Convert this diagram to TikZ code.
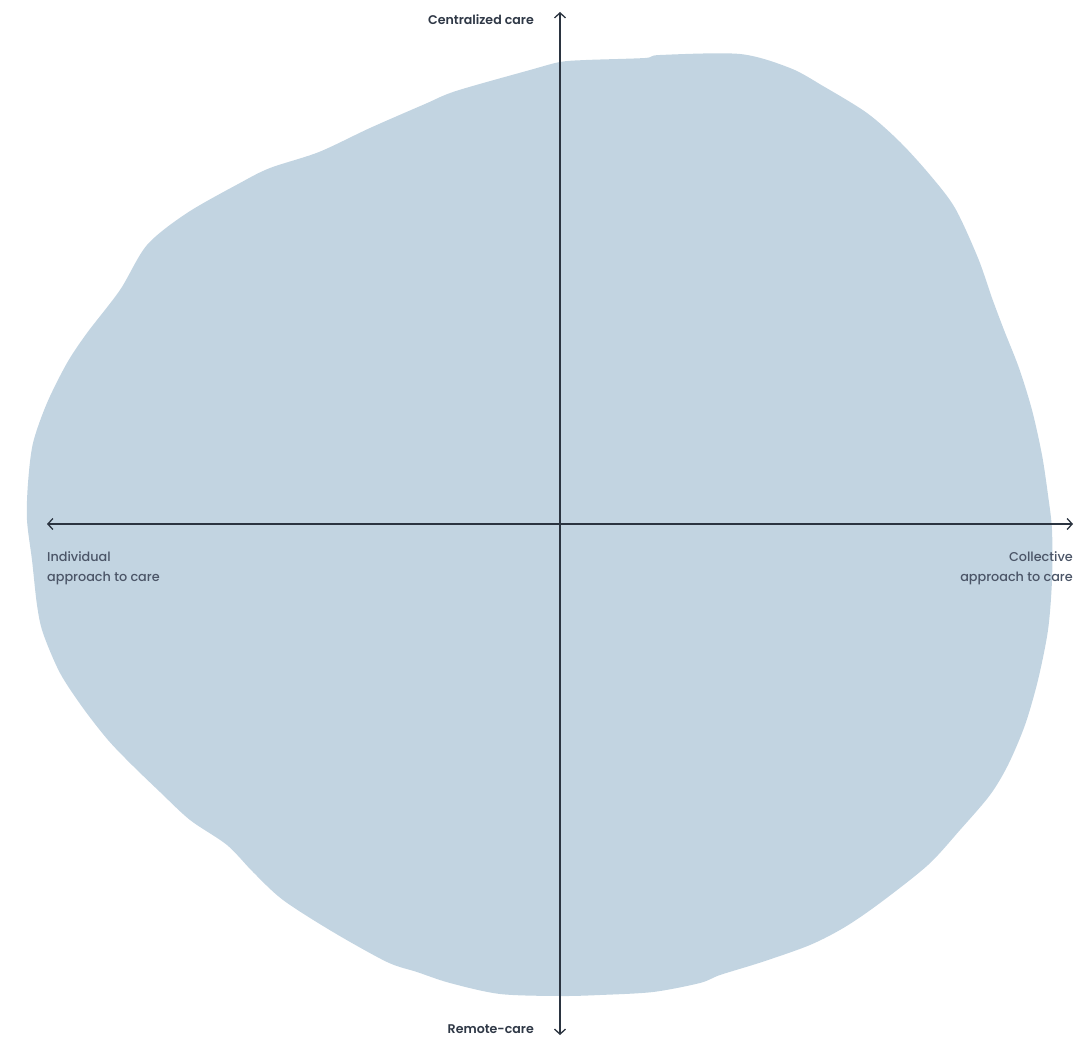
\documentclass[tikz,border=0pt]{standalone}
\usepackage{fontspec}
\setmainfont{Poppins}[UprightFont=* Medium, BoldFont=* SemiBold]
\usetikzlibrary{arrows.meta}
\definecolor{blobcol}{HTML}{C2D4E1}
\definecolor{axiscol}{HTML}{2B3440}
\definecolor{labdark}{HTML}{2F3846}
\definecolor{labgrey}{HTML}{4B5567}
\tikzset{
  axisline/.style={draw=axiscol, line width=1.3pt, {Straight Barb[length=5pt,width=11pt,line width=1.3pt]}-{Straight Barb[length=5pt,width=11pt,line width=1.3pt]}},
  vlabel/.style={text=labdark, font=\fontsize{12.6}{14}\selectfont\bfseries, inner sep=0pt},
  hlabel/.style={text=labgrey, font=\fontsize{12.8}{20}\selectfont, inner sep=0pt, align=left}
}
\begin{document}
\begin{tikzpicture}[x=1pt,y=-1pt]
\useasboundingbox (0,0) rectangle (1087,1038);
\fill[blobcol] plot[smooth cycle, tension=0.5] coordinates {
(560,62) (586,60) (645,58) (660,55) (740,54) (790,68) (823,86) (867,113)
(900,142) (930,175) (955,208) (978,258) (992,298) (1004,330) (1019,368)
(1032,410) (1042,455) (1048,495) (1052,530) (1052,580) (1048,630) (1038,680)
(1025,725) (1008,765) (990,795) (960,830) (928,865) (880,903) (845,927)
(810,945) (762,962) (720,975) (700,983) (653,992) (600,995) (560,996)
(500,994) (450,983) (417,972) (387,962) (333,932) (283,900) (253,872)
(227,845) (190,820) (160,792) (132,765) (108,740) (83,708) (60,673)
(43,633) (37,605) (32,560) (27,520) (28,483) (33,443) (47,403) (67,363)
(87,333) (120,290) (147,245) (187,213) (240,183) (270,168) (319,152)
(370,128) (425,104) (456,91) (530,70)};
\coordinate (top) at (560,12);
\coordinate (bot) at (560,1035);
\coordinate (left) at (47,524);
\coordinate (right) at (1073,524);
\draw[axisline] (bot) -- (top);
\draw[axisline] (left) -- (right);
\node[vlabel, anchor=east] (central) at (534,20) {Centralized care};
\node[vlabel, anchor=east] (remote) at (534,1029) {Remote-care};
\node[hlabel, anchor=north west] (indiv) at (47,551) {Individual\\approach to care};
\node[hlabel, anchor=north east, align=right] (coll) at (1073,551) {Collective\\approach to care};
\end{tikzpicture}
\end{document}
